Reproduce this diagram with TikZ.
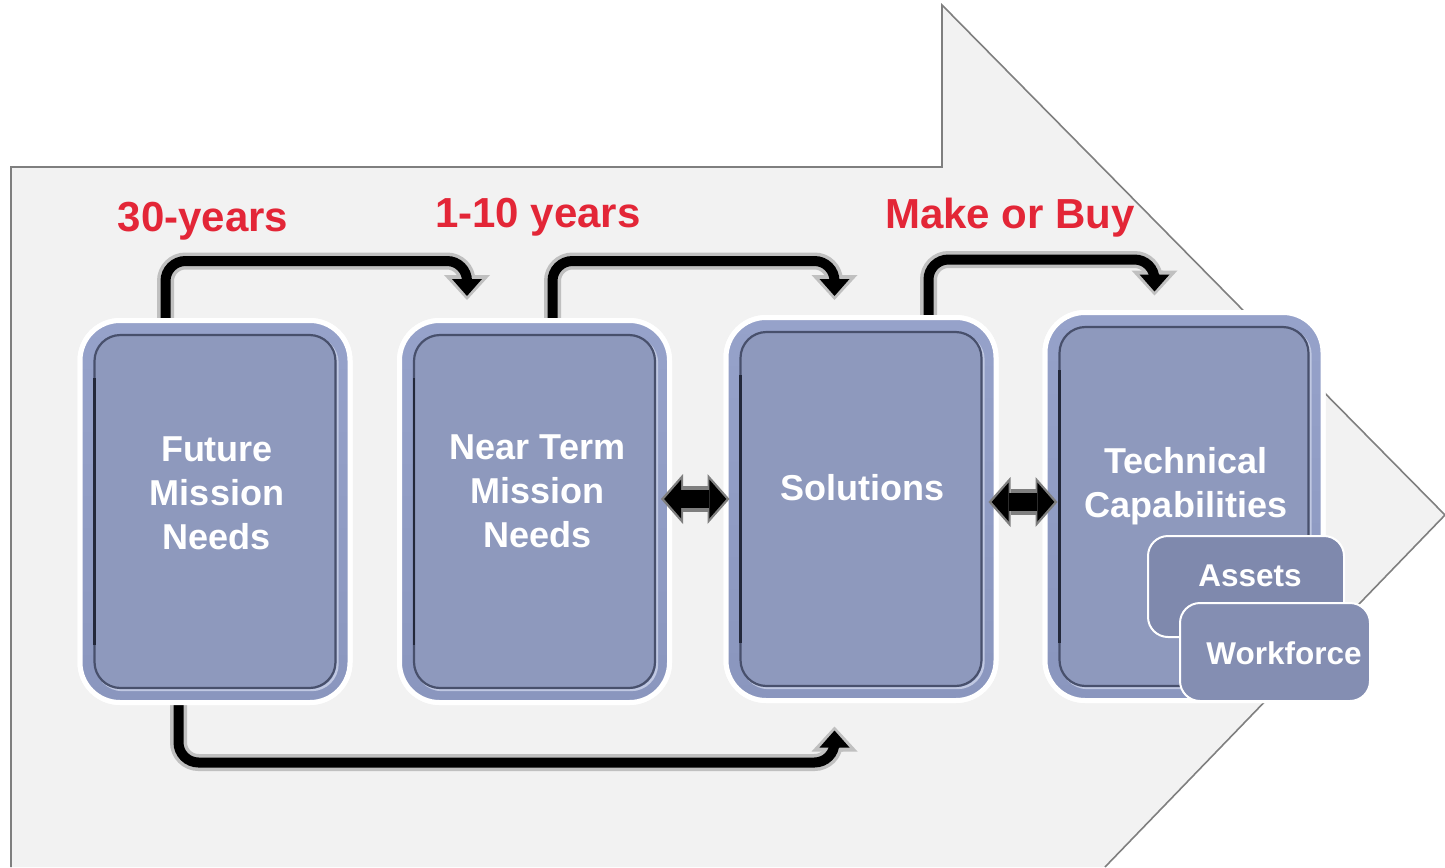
\documentclass[tikz,border=0pt]{standalone}
\usepackage{fontspec}
\setmainfont{Liberation Sans}
\usetikzlibrary{arrows.meta,calc}

\definecolor{bgfill}{RGB}{242,242,242}
\definecolor{bgline}{RGB}{127,127,127}
\definecolor{ring}{RGB}{138,150,190}
\definecolor{ringtop}{RGB}{150,162,202}
\definecolor{face}{RGB}{142,153,189}
\definecolor{bevdark}{RGB}{72,80,108}
\definecolor{bevdeep}{RGB}{35,40,58}
\definecolor{bevlight}{RGB}{192,200,226}
\definecolor{halo}{RGB}{192,192,192}
\definecolor{redlabel}{RGB}{227,38,55}
\definecolor{assetfill}{RGB}{127,137,173}
\definecolor{workfill}{RGB}{132,142,178}

% inner bevelled face of a panel
\newcommand\panelbevel[1]{%
  \draw[bevlight, line width=1.2pt, rounded corners=13pt]
    ($(#1.north west)+(19,19)$) rectangle ($(#1.south east)+(-15,-15)$);
  \draw[bevdark, line width=1.1pt, fill=face, rounded corners=13pt]
    ($(#1.north west)+(17,17)$) rectangle ($(#1.south east)+(-17,-17)$);
  \draw[bevdeep, line width=1.4pt]
    ($(#1.north west)+(17,60)$) -- ($(#1.south west)+(17,-60)$);
}

\begin{document}
\begin{tikzpicture}[x=0.5pt,y=-0.5pt,
  panel/.style={rectangle, rounded corners=20pt, draw=white, line width=2.5pt,
    top color=ringtop, bottom color=ring, inner sep=0pt},
  paneltext/.style={text=white, align=center, font=\fontsize{18pt}{22pt}\selectfont\bfseries},
  redtext/.style={text=redlabel, anchor=base, font=\fontsize{21pt}{25pt}\selectfont\bfseries},
  smallbox/.style={rectangle, rounded corners=10pt, draw=white, line width=1pt, inner sep=0pt},
  smalltext/.style={text=white, font=\fontsize{15.75pt}{19pt}\selectfont\bfseries},
  connhalo/.style={draw=halo, line width=8.5pt, rounded corners=10pt,
    -{Triangle[width=23pt,length=12.5pt,line width=0pt]}},
  conncore/.style={draw=black, line width=5pt, rounded corners=10pt, shorten >=2pt,
    -{Triangle[width=15pt,length=8.5pt,line width=0pt]}},
  dblhalo/.style={draw=bgline, line width=13pt,
    {Triangle[width=25pt,length=11pt,line width=0pt]}-{Triangle[width=25pt,length=11pt,line width=0pt]}},
  dblcore/.style={draw=black, line width=9pt, shorten >=1.6pt, shorten <=1.6pt,
    {Triangle[width=19.5pt,length=8.5pt,line width=0pt]}-{Triangle[width=19.5pt,length=8.5pt,line width=0pt]}}
]
\useasboundingbox (0,0) rectangle (1445,867);

% large background arrow
\fill[bgfill] (11,867) -- (11,167) -- (942,167) -- (942,5) -- (1445,515) -- (1105,867) -- cycle;
\draw[bgline, line width=0.8pt] (11,867) -- (11,167) -- (942,167) -- (942,5) -- (1445,515) -- (1105,867);

% panel positions
\path (215,511.5) node[panel, minimum width=135pt, minimum height=191pt] (b1) {};
\path (534.5,511.5) node[panel, minimum width=135pt, minimum height=191pt] (b2) {};
\path (861,509) node[panel, minimum width=135pt, minimum height=191.5pt] (b3) {};
\path (1184,506.5) node[panel, minimum width=139pt, minimum height=194pt] (b4) {};

% connector end points
\coordinate (s1) at ($(b1.north west)+(88,4)$);
\coordinate (t1) at ($(b2.north west)+(70,-18)$);
\coordinate (s2) at ($(b2.north west)+(155.5,4)$);
\coordinate (t2) at ($(b3.north west)+(111,-15)$);
\coordinate (s3) at ($(b3.north west)+(205,4)$);
\coordinate (t3) at ($(b4.north west)+(112,-14.5)$);
\coordinate (s4) at ($(b1.south west)+(101,-4)$);
\coordinate (t4) at ($(b3.south west)+(111,23.5)$);

% curved flow connectors
\draw[connhalo] (s1) |- ($(t1)+(0,-39)$) -- (t1);
\draw[conncore] (s1) |- ($(t1)+(0,-39)$) -- (t1);
\draw[connhalo] (s2) |- ($(t2)+(0,-39)$) -- (t2);
\draw[conncore] (s2) |- ($(t2)+(0,-39)$) -- (t2);
\draw[connhalo] (s3) |- ($(t3)+(0,-36)$) -- (t3);
\draw[conncore] (s3) |- ($(t3)+(0,-36)$) -- (t3);
\draw[connhalo] (s4) |- ($(t4)+(0,36)$) -- (t4);
\draw[conncore] (s4) |- ($(t4)+(0,36)$) -- (t4);

% panels redrawn on top of connector starts
\path (215,511.5) node[panel, minimum width=135pt, minimum height=191pt] {};
\path (534.5,511.5) node[panel, minimum width=135pt, minimum height=191pt] {};
\path (861,509) node[panel, minimum width=135pt, minimum height=191.5pt] {};
\path (1184,506.5) node[panel, minimum width=139pt, minimum height=194pt] {};
\panelbevel{b1}
\panelbevel{b2}
\panelbevel{b3}
\panelbevel{b4}

% panel titles
\node[paneltext] (t1txt) at ($(b1.center)+(2,-18)$) {Future\\Mission\\Needs};
\node[paneltext] (t2txt) at ($(b2.center)+(3,-20)$) {Near Term\\Mission\\Needs};
\node[paneltext] (t3txt) at ($(b3.center)+(1,-21)$) {Solutions};
\node[paneltext] (t4txt) at ($(b4.center)+(2,-20)$) {Technical\\Capabilities};

% two-way block arrows
\coordinate (d1a) at ($(b2.east)+(-11,-12.5)$);
\coordinate (d1b) at ($(d1a -| b3.west)+(6,0)$);
\coordinate (d2a) at ($(b3.east)+(-10,-7)$);
\coordinate (d2b) at ($(d2a -| b4.west)+(15,0)$);
\draw[dblhalo] (d1a) -- (d1b);
\draw[dblcore] (d1a) -- (d1b);
\draw[dblhalo] (d2a) -- (d2b);
\draw[dblcore] (d2a) -- (d2b);

% sub-boxes of the capabilities panel
\node[smallbox, fill=assetfill, minimum width=98pt, minimum height=50.5pt] (as) at (1246,586.5) {};
\node[smallbox, fill=workfill, minimum width=95pt, minimum height=49pt] (wf) at (1275,652) {};
\node[smalltext] (astxt) at ($(as.center)+(4,-11)$) {Assets};
\node[smalltext] (wftxt) at ($(wf.center)+(9,1)$) {Workforce};

% horizon labels
\node[redtext] (l1) at (203,231) {30-years};
\node[redtext] (l2) at (538,227) {1-10 years};
\node[redtext] (l3) at (1010,228) {Make or Buy};
\end{tikzpicture}
\end{document}
